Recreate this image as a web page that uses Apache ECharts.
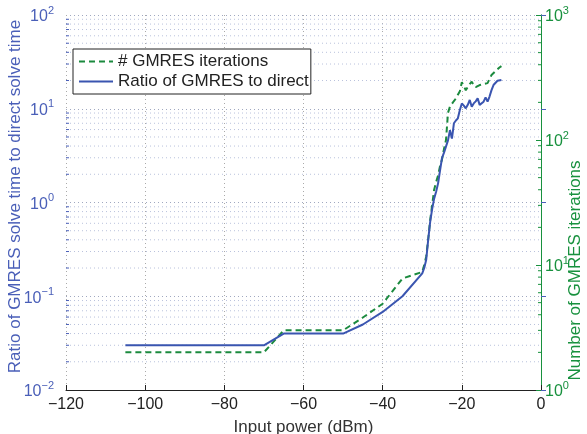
<!DOCTYPE html>
<html><head><meta charset="utf-8">
<script src="https://cdn.jsdelivr.net/npm/echarts@6/dist/echarts.min.js"></script>
<style>html,body{margin:0;padding:0;background:#fff}#c{width:587px;height:434px}</style>
</head><body><div id="c"></div>
<script>
// x values (dBm)
var xPower = [-105,-100,-95,-90,-85,-80,-75,-70,-65,-60,-55,-50,-45,-40,-35,-30,
  -29.5,-29,-28.5,-28,-27.5,-27,-26.5,-26,-25.5,-25,-24.5,-24,-23.5,-23,-22.5,-22,
  -21.5,-21,-20.5,-20,-19.5,-19,-18.5,-18,-17.5,-17,-16.5,-16,-15.5,-15,-14.5,-14,
  -13.5,-13,-12.5,-12,-11.5,-11,-10.5,-10];
// ratio of GMRES to direct solve time (left axis)
var ratio = [0.03,0.03,0.03,0.03,0.03,0.03,0.03,0.03,0.04,0.04,0.04,0.04,0.05,0.068,0.1,0.175,
  0.2,0.245,0.4,0.62,0.85,1.1,1.3,1.6,2.2,3.0,3.4,3.3,4.6,5.9,4.8,7.0,
  7.5,7.9,9.7,11.4,10.8,10.1,11.0,12.4,10.5,11.4,12.0,12.9,11.0,11.5,11.9,13.2,
  11.9,13.5,15.8,17.9,18.6,19.9,19.5,20.3];
// number of GMRES iterations (right axis)
var iters = [2,2,2,2,2,2,2,2,3,3,3,3,3.8,4.9,7.8,8.8,
  10,11.7,16,22.9,30,40,46,52,62,70,85,100,165,185,195,205,
  215,230,245,290,270,250,265,280,293,275,265,270,275,278,280,283,
  285,290,331,340,355,365,380,390];
var xTicks = [-120,-100,-80,-60,-40,-20,0];
var leftMinor = [];
[0.01,0.1,1,10].forEach(function(d){for(var k=2;k<=9;k++)leftMinor.push(+(d*k).toPrecision(3));});
var rightMinor = [];
[1,10,100].forEach(function(d){for(var k=2;k<=9;k++)rightMinor.push(d*k);});

var BLUE = '#3a55b0', GREEN = '#1b8a3e', BLUE_T = '#4a5fb8', GREEN_T = '#18913e';
var FONT = 'Liberation Sans, Arial, Helvetica, sans-serif';

function pow10Label(v){
  var e = Math.round(Math.log10(v));
  return '{b|10}{s|' + String(e).replace('-', '\u2212') + '}';
}
function minorTicks(axisIdx, vals, side, color){
  return {
    type: 'custom', yAxisIndex: axisIdx, silent: true, z: 3,
    data: vals.map(function(v){return [side === 'left' ? -120 : 0, v];}),
    renderItem: function(params, api){
      var p = api.coord([api.value(0), api.value(1)]);
      var dx = side === 'left' ? 3 : -3;
      return {type:'line', shape:{x1:p[0], y1:p[1], x2:p[0]+dx, y2:p[1]},
        style:{stroke: color, lineWidth: 1}};
    }
  };
}
function minorGrid(vals){
  return {
    type: 'custom', yAxisIndex: 0, silent: true, z: 1,
    data: vals.map(function(v){return [-120, v];}),
    renderItem: function(params, api){
      var p = api.coord([-120, api.value(1)]);
      var q = api.coord([0, api.value(1)]);
      return {type:'line', shape:{x1:p[0], y1:p[1], x2:q[0], y2:q[1]},
        style:{stroke:'#b9c2dc', lineWidth:1, lineDash:[1,3]}};
    }
  };
}

var chart = echarts.init(document.getElementById('c'), null, {renderer:'canvas'});
chart.setOption({
  animation: false,
  backgroundColor: '#fff',
  textStyle: {fontFamily: FONT},
  grid: {left: 66, right: 46, top: 15, bottom: 44, containLabel: false, outerBoundsMode: 'none'},
  legend: {
    data: ['# GMRES iterations', 'Ratio of GMRES to direct'],
    orient: 'vertical', left: 73, top: 49,
    borderColor: '#222', borderWidth: 1, backgroundColor: '#fff',
    padding: [4, 2, 4, 5], itemGap: 3, itemWidth: 34, itemHeight: 14,
    itemStyle: {opacity: 0},
    textStyle: {fontSize: 17, color: '#222', fontFamily: FONT}
  },
  xAxis: {
    type: 'value', min: -120, max: 0, interval: 20,
    axisLine: {onZero: false, lineStyle: {color: '#222', width: 1}},
    axisTick: {inside: true, length: 5, lineStyle: {color: '#222'}},
    axisLabel: {fontSize: 16, color: '#222', margin: 7,
      formatter: function(v){return String(v).replace('-', '\u2212');}},
    splitLine: {show: true, lineStyle: {color: '#aaaaaa', type: [1,3], width: 1}},
    name: 'Input power (dBm)', nameLocation: 'middle', nameGap: 29, nameMoveOverlap: false,
    nameTextStyle: {fontSize: 17, color: '#333'}
  },
  yAxis: [{
    type: 'log', logBase: 10, min: 0.01, max: 100, position: 'left',
    axisLine: {show: true, lineStyle: {color: BLUE_T, width: 1}},
    axisTick: {inside: true, length: 5, lineStyle: {color: BLUE_T}},
    axisLabel: {margin: 12, formatter: pow10Label, rich: {
      b: {fontSize: 16, color: BLUE_T, fontFamily: FONT, verticalAlign: 'bottom', lineHeight: 20},
      s: {fontSize: 11, color: BLUE_T, fontFamily: FONT, verticalAlign: 'top', lineHeight: 20}}},
    splitLine: {show: true, lineStyle: {color: '#a0a8c0', type: [1,3], width: 1}},
    name: 'Ratio of GMRES solve time to direct solve time', nameLocation: 'middle', nameGap: 42,
    nameMoveOverlap: false,
    nameTextStyle: {fontSize: 17, color: BLUE_T, padding: [0, 0, 0, 12]}
  }, {
    type: 'log', logBase: 10, min: 1, max: 1000, position: 'right',
    axisLine: {show: true, lineStyle: {color: GREEN_T, width: 1}},
    axisTick: {inside: true, length: 5, lineStyle: {color: GREEN_T}},
    axisLabel: {margin: 4, formatter: pow10Label, rich: {
      b: {fontSize: 16, color: GREEN_T, fontFamily: FONT, verticalAlign: 'bottom', lineHeight: 20},
      s: {fontSize: 11, color: GREEN_T, fontFamily: FONT, verticalAlign: 'top', lineHeight: 20}}},
    splitLine: {show: false},
    name: 'Number of GMRES iterations', nameLocation: 'middle', nameGap: 26,
    nameMoveOverlap: false, nameRotate: 90,
    nameTextStyle: {fontSize: 17, color: GREEN_T, padding: [0, 136, 0, 0]}
  }],
  series: [
    minorGrid(leftMinor),
    minorTicks(0, leftMinor, 'left', BLUE_T),
    minorTicks(1, rightMinor, 'right', GREEN_T),
    {
      name: '# GMRES iterations', type: 'line', yAxisIndex: 1, symbol: 'none', z: 5,
      data: xPower.map(function(x, i){return [x, iters[i]];}),
      lineStyle: {color: GREEN, width: 2, type: [6, 4]}, itemStyle: {color: GREEN}
    },
    {
      name: 'Ratio of GMRES to direct', type: 'line', yAxisIndex: 0, symbol: 'none', z: 6,
      data: xPower.map(function(x, i){return [x, ratio[i]];}),
      lineStyle: {color: BLUE, width: 2}, itemStyle: {color: BLUE}
    }
  ]
});
</script></body></html>
